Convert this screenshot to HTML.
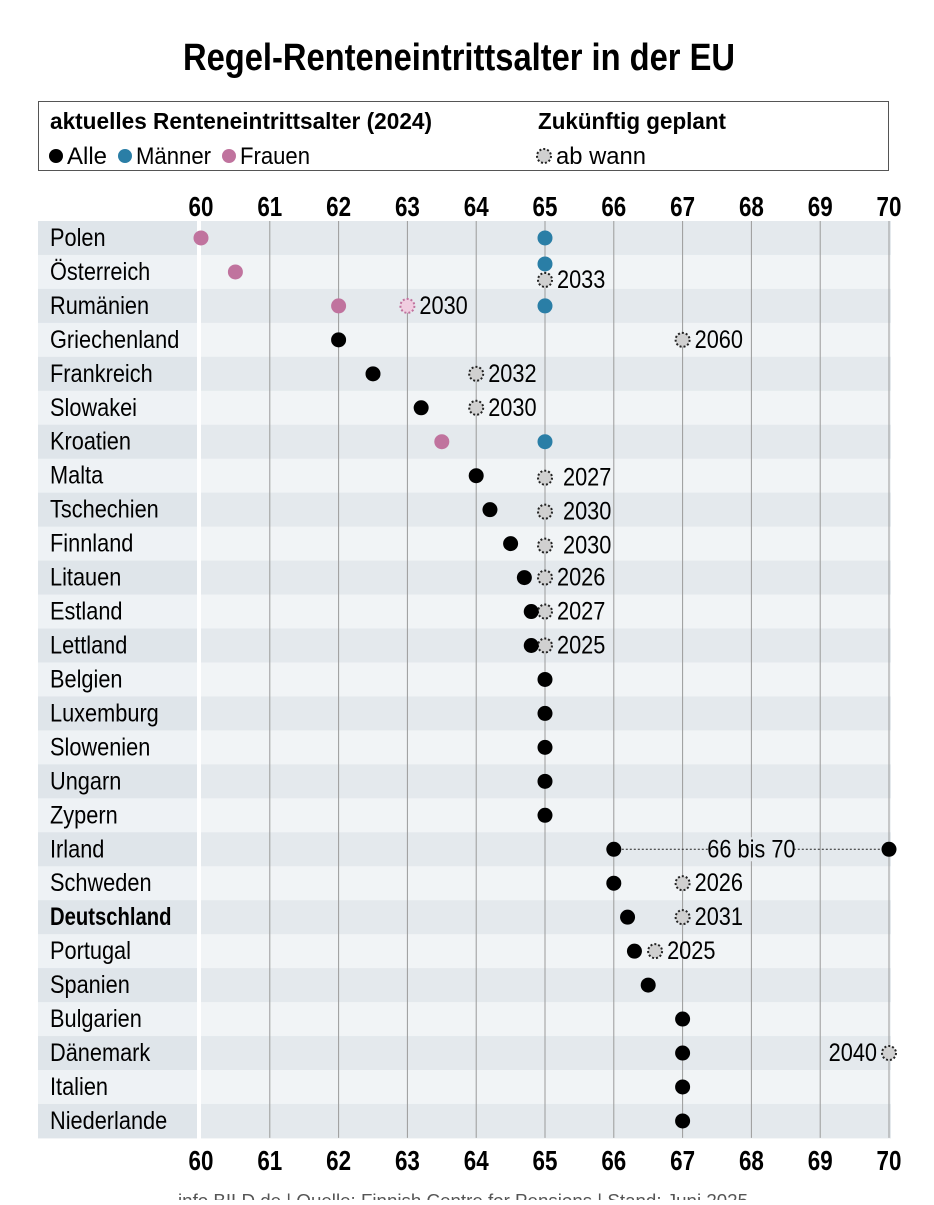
<!DOCTYPE html>
<html><head><meta charset="utf-8"><style>
body{margin:0;background:#fff;width:934px;height:1200px;overflow:hidden}
svg text{font-family:"Liberation Sans Narrow","Liberation Sans",sans-serif}
</style></head><body>
<svg id="chart" width="934" height="1200">
<text x="459" y="70" text-anchor="middle" font-size="38" font-weight="bold" textLength="552" lengthAdjust="spacingAndGlyphs">Regel-Renteneintrittsalter in der EU</text>
<g>
<rect x="38.5" y="101.5" width="850" height="69" fill="#fff" stroke="#555"/>
<text x="50" y="129" font-size="23" font-weight="bold" textLength="382" lengthAdjust="spacingAndGlyphs">aktuelles Renteneintrittsalter (2024)</text>
<text x="538" y="129" font-size="23" font-weight="bold" textLength="188" lengthAdjust="spacingAndGlyphs">Zukünftig geplant</text>
<circle cx="56" cy="156" r="7" fill="#000"/>
<text x="67" y="164" font-size="24" textLength="40" lengthAdjust="spacingAndGlyphs">Alle</text>
<circle cx="125" cy="156" r="7" fill="#2a7ea6"/>
<text x="136" y="164" font-size="24" textLength="75" lengthAdjust="spacingAndGlyphs">Männer</text>
<circle cx="229" cy="156" r="7" fill="#c0739e"/>
<text x="240" y="164" font-size="24" textLength="70" lengthAdjust="spacingAndGlyphs">Frauen</text>
<circle cx="544" cy="156" r="7" fill="#d0d0d0" stroke="#222" stroke-width="2" stroke-dasharray="2 2"/>
<text x="556" y="164" font-size="24" textLength="90" lengthAdjust="spacingAndGlyphs">ab wann</text>
</g>
<g id="plot"></g>
<text x="463" y="1207" text-anchor="middle" font-size="18" fill="#555" textLength="570" lengthAdjust="spacingAndGlyphs">info.BILD.de | Quelle: Finnish Centre for Pensions | Stand: Juni 2025</text>
</svg>
<script>
const countries=["Polen","Österreich","Rumänien","Griechenland","Frankreich","Slowakei","Kroatien","Malta","Tschechien","Finnland","Litauen","Estland","Lettland","Belgien","Luxemburg","Slowenien","Ungarn","Zypern","Irland","Schweden","Deutschland","Portugal","Spanien","Bulgarien","Dänemark","Italien","Niederlande"];
const alleValues=[null,null,null,62,62.5,63.2,null,64,64.2,64.5,64.7,64.8,64.8,65,65,65,65,65,66,66,66.2,66.3,66.5,67,67,67,67];
const maennerValues=[65,65,65,null,null,null,65,null,null,null,null,null,null,null,null,null,null,null,null,null,null,null,null,null,null,null,null];
const frauenValues=[60,60.5,62,null,null,null,63.5,null,null,null,null,null,null,null,null,null,null,null,null,null,null,null,null,null,null,null,null];
const plannedValues=[null,65,63,67,64,64,null,65,65,65,65,65,65,null,null,null,null,null,null,67,67,66.6,null,null,70,null,null];
const plannedYears=[null,"2033","2030","2060","2032","2030",null,"2027","2030","2030","2026","2027","2025",null,null,null,null,null,null,"2026","2031","2025",null,null,"2040",null,null];
const rangeRow=18, rangeEnd=70, rangeLabel="66 bis 70";
const ticks=[60,61,62,63,64,65,66,67,68,69,70];
const NS="http://www.w3.org/2000/svg";
const X0=201,X1=889,xmin=60,xmax=70;
const x=v=>X0+(v-xmin)*(X1-X0)/(xmax-xmin);
const rowTop=221,rowH=33.96;
const y=i=>rowTop+rowH*i+rowH/2;
const SX=0.87;
const plot=document.getElementById('plot');
function mk(tag,attrs){const e=document.createElementNS(NS,tag);for(const k in attrs)e.setAttribute(k,attrs[k]);plot.appendChild(e);return e;}
function txt(s,tx,ty,size,anchor,weight,sx){const t=mk('text',{transform:`translate(${tx},${ty}) scale(${sx},1)`,'font-size':size,'text-anchor':anchor||'start','font-weight':weight||'normal'});t.textContent=s;return t;}
countries.forEach((c,i)=>{
  const dark=i%2===0;
  const b=mk('rect',{x:38,y:rowTop+rowH*i,width:159,height:rowH+0.5,fill:dark?'#dfe5ea':'#eef2f5'});
  
  
  const p=mk('rect',{x:201,y:rowTop+rowH*i,width:X1+2-201,height:rowH+0.5,fill:dark?'#e4e9ed':'#f1f4f6'});
  
  
  const t=txt(c,50,y(i)+8,25,'start',c==='Deutschland'?'bold':'normal',c==='Deutschland'?0.81:SX);
  
  
});
ticks.forEach(v=>{
  if(v>xmin){const l=mk('line',{x1:x(v),x2:x(v),y1:rowTop,y2:rowTop+rowH*27,stroke:'#9a9a9a','stroke-width':1});
  
  }
  [216,1170].forEach(yy=>{const t=txt(String(v),x(v),yy,28,'middle','bold',0.8);
  
  });
});
function dot(v,i,dy,fill,name){const d=mk('circle',{cx:x(v),cy:y(i)+dy,r:7.5,fill:fill});
  
  }
{const l=mk('line',{x1:x(66)+8,x2:x(rangeEnd)-8,y1:y(rangeRow),y2:y(rangeRow),stroke:'#222','stroke-width':1,'stroke-dasharray':'2 2'});


const cx=(x(66)+x(rangeEnd))/2;
mk('rect',{x:cx-42,y:y(rangeRow)-12,width:84,height:24,fill:'#e4e9ed'});
const t=txt(rangeLabel,cx,y(rangeRow)+8,25,'middle','normal',SX);


dot(rangeEnd,rangeRow,0,'#000','range-end-dot');}
countries.forEach((c,i)=>{
  const hasPlan=plannedValues[i]!=null;
  if(hasPlan){
    const pink=frauenValues[i]!=null&&plannedValues[i]<65;
    const dy=(maennerValues[i]!=null&&plannedValues[i]===maennerValues[i])?8:(i>=7&&i<=9?2:0);
    const d=mk('circle',{cx:x(plannedValues[i]),cy:y(i)+dy,r:7,fill:pink?'#f0cde0':'#d0d0d0',stroke:pink?'#c0739e':'#222','stroke-width':2,'stroke-dasharray':'2 2'});
    
    
    const left=plannedValues[i]>=70;
    const t=txt(plannedYears[i],left?x(plannedValues[i])-12:x(plannedValues[i])+(i>=7&&i<=9?18:12),y(i)+dy+8,25,left?'end':'start','normal',SX);
    
    
  }
  if(frauenValues[i]!=null)dot(frauenValues[i],i,0,'#c0739e','frauen-dot');
  if(maennerValues[i]!=null)dot(maennerValues[i],i,(hasPlan&&plannedValues[i]===maennerValues[i])?-8:0,'#2a7ea6','maenner-dot');
  if(alleValues[i]!=null)dot(alleValues[i],i,0,'#000','alle-dot');
});
</script>
</body></html>
